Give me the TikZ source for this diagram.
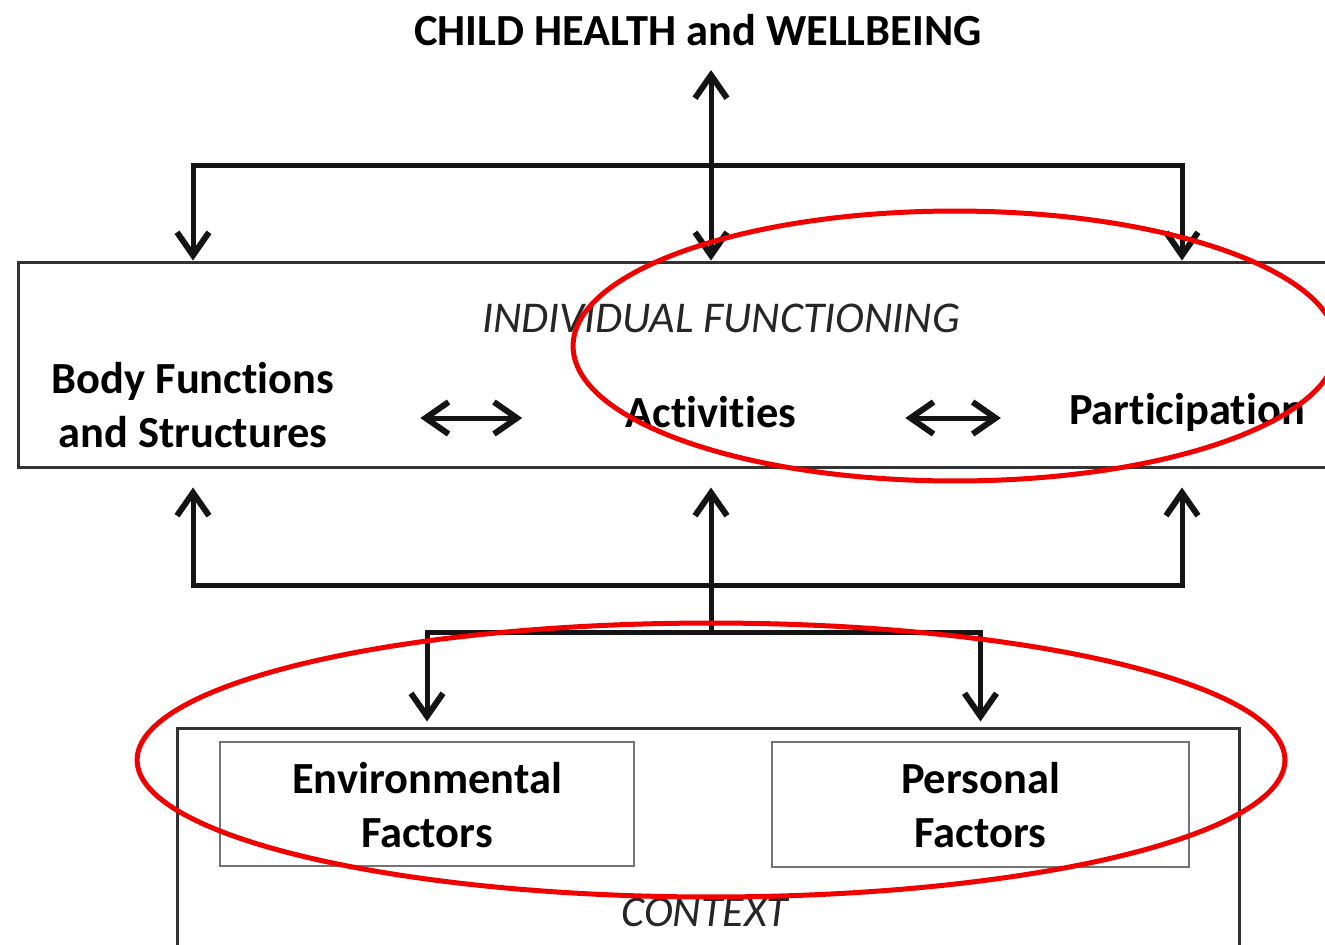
\documentclass[tikz,border=0pt]{standalone}
\usepackage{fontspec}
\setmainfont{Carlito}[Ligatures=NoCommon]
\usepackage{xcolor}
\usetikzlibrary{arrows.meta}

\definecolor{ringred}{HTML}{F20000}
\definecolor{boxgray}{HTML}{333333}

\begin{document}
\begin{tikzpicture}[
        x=0.02cm, y=-0.02cm,
        font=\fontsize{25}{31}\selectfont,
        label/.style={font=\fontsize{25.3}{31}\selectfont\bfseries, align=center},
        heading/.style={font=\fontsize{25}{31}\selectfont\itshape, text=black!85},
        outerbox/.style={draw=boxgray, line width=0.06cm, inner sep=0pt},
        innerbox/.style={draw=black!55, line width=0.05cm, inner sep=0pt},
        link/.style={draw=black!92, line width=0.1cm},
        tip/.tip={Straight Barb[length=0.46cm, width=0.64cm, line width=0.12cm]},
        arr/.style={link, -tip},
        biarr/.style={link, tip-tip},
        ring/.style={draw=ringred, line width=0.1cm}
      ]
      \useasboundingbox[fill=white] (0,0) rectangle (1325,944);

      \node[label] (title) at (698,30) {CHILD HEALTH and WELLBEING};

      \node[outerbox, minimum width=26.54cm, minimum height=4.12cm] (indiv) at (681.5,365) {};
      \node[heading] (indivhead) at (721,318) {INDIVIDUAL FUNCTIONING};
      \node[label] (body) at (193,405) {Body Functions\\and Structures};
      \node[label] (activ) at (711,412) {Activities};
      \node[label] (partic) at (1187,412) {Participation};

      \node[outerbox, minimum width=21.26cm, minimum height=4.84cm] (ctx) at (708.5,849) {};
      \node[innerbox, minimum width=8.28cm, minimum height=2.48cm] (envbox) at (427,804) {};
      \node[innerbox, minimum width=8.34cm, minimum height=2.5cm] (persbox) at (980.5,804.5) {};
      \node[label] (env) at (427,805) {Environmental\\Factors};
      \node[label] (pers) at (980.5,805) {Personal\\Factors};
      \node[heading] (ctxhead) at (705,912) {CONTEXT};

      \coordinate (topbar) at (711,165);
      \coordinate (lowbar) at (711,585);
      \coordinate (ctxbar) at (711,632);

      \draw[biarr] ([yshift=-0.36cm]title.south -| activ) -- (indiv.north -| activ);
      \draw[arr] (topbar) -| (indiv.north -| body);
      \draw[arr] (topbar) -| ([xshift=-0.1cm]indiv.north -| partic);

      \draw[biarr] ([xshift=1.6cm, yshift=-0.12cm]body.east |- activ) -- ([xshift=-1.95cm, yshift=-0.12cm]activ.west);
      \draw[biarr] ([xshift=2.06cm, yshift=-0.12cm]activ.east) -- ([xshift=-1.24cm, yshift=-0.12cm]partic.west);

      \draw[arr, shorten >=0.36cm] (lowbar) -| (indiv.south -| body);
      \draw[arr, shorten >=0.36cm] (lowbar) -| ([xshift=-0.1cm]indiv.south -| partic);
      \draw[arr, shorten >=0.36cm] (ctxbar) -- (indiv.south -| activ);
      \draw[arr, shorten >=0.1cm] (ctxbar) -| (ctx.north -| envbox);
      \draw[arr, shorten >=0.1cm] (ctxbar) -| (ctx.north -| persbox);

      \draw[ring] (955,346) ellipse [x radius=7.64cm, y radius=2.7cm];
      \draw[ring] (711,760) ellipse [x radius=11.48cm, y radius=2.74cm];
    \end{tikzpicture}
\end{document}
